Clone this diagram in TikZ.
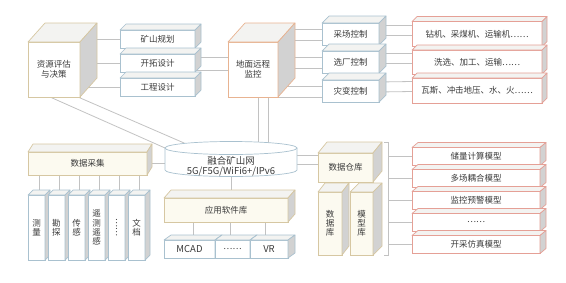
\documentclass[tikz,border=0pt]{standalone}
\usepackage{fontspec}
\usepackage{graphicx}
\newfontfamily\cjk{Noto Sans CJK SC}
\usetikzlibrary{calc}
\pgfdeclarelayer{bg}
\pgfsetlayers{bg,main}
\definecolor{tanc}{HTML}{D6C7A2}
\definecolor{monc}{HTML}{E8B391}
\definecolor{bluc}{HTML}{A9C1CF}
\definecolor{redc}{HTML}{E5A096}
\definecolor{creamf}{HTML}{FCFAF0}
\definecolor{topf}{HTML}{F3F3F1}
\definecolor{sidef}{HTML}{D2D2D2}
\definecolor{linec}{HTML}{C2C2C2}
\definecolor{txtc}{HTML}{3A3A3A}
\tikzset{
  conn/.style={draw=linec, line width=0.8pt},
  face/.style={line width=0.7pt, inner sep=0pt, outer sep=0pt, align=center},
  tanbox/.style={draw=tanc, fill=creamf},
  resbox/.style={draw=tanc, fill=white},
  monbox/.style={draw=monc, fill=white},
  blubox/.style={draw=bluc, fill=white},
  redbox/.style={draw=redc, fill=white},
  vtext/.style={font=\cjk\fontsize{8.5}{9.2}\selectfont},
  latin/.style={font=\cjk\fontsize{9.5}{11}\selectfont},
}
% #1 name, #2 x, #3 y, #4 width, #5 height, #6 depth x, #7 depth y, #8 style, #9 text
\newcommand\prism[9]{%
  \node[face, #8, minimum width=#4, minimum height=#5] (#1) at (#2,#3) {#9};
  \filldraw[#8, line width=0.7pt, line join=round, fill=topf] (#1.north west) -- ++(#6,-#7) -- ++(#4,0) -- (#1.north east) -- cycle;
  \filldraw[#8, line width=0.7pt, line join=round, fill=sidef] (#1.north east) -- ++(#6,-#7) -- ++(0,#5) -- (#1.south east) -- cycle;
}
\begin{document}
\begin{tikzpicture}[x=1pt, y=-1pt, every node/.style={font=\cjk\fontsize{8.5}{10}\selectfont, text=txtc}]
\useasboundingbox (0,0) rectangle (566,282);

% top row
\prism{res}{54}{69.5}{52}{55}{17}{19}{resbox}{资源评估\\与决策}
\prism{plan1}{157.5}{39}{75}{18}{6}{6}{blubox}{矿山规划}
\prism{plan2}{157.5}{63}{75}{18}{6}{6}{blubox}{开拓设计}
\prism{plan3}{157.5}{87}{75}{18}{6}{6}{blubox}{工程设计}
\prism{mon}{253}{69.5}{50}{55}{17}{19}{monbox}{地面远程\\监控}
\prism{ctl1}{350.5}{34}{57}{22}{7}{7}{blubox}{采场控制}
\prism{ctl2}{350.5}{62}{57}{22}{7}{7}{blubox}{选厂控制}
\prism{ctl3}{350.5}{91}{57}{22}{7}{7}{blubox}{灾变控制}
\prism{dev1}{477}{34}{130}{25}{5}{5}{redbox}{钻机、采煤机、运输机……}
\prism{dev2}{477}{62}{130}{24}{5}{5}{redbox}{洗选、加工、运输……}
\prism{dev3}{477}{90.5}{130}{25}{5}{5}{redbox}{瓦斯、冲击地压、水、火……}

% network cylinder
\node[minimum width=132, minimum height=22, inner sep=0pt, outer sep=0pt] (net) at (231,159) {};
\filldraw[draw=bluc, line width=0.7pt, fill=white] (net.north west) -- (net.south west)
  arc[start angle=180, end angle=360, x radius=66pt, y radius=6.5pt] -- (net.north east) -- cycle;
\filldraw[draw=bluc, line width=0.7pt, fill=white] (net.north) ellipse[x radius=66pt, y radius=6.5pt];
\node[align=center, latin] (netlabel) at ($(net.center)+(0,7)$) {融合矿山网\\[-1pt]5G/F5G/WiFi6+/IPv6};

% data acquisition
\prism{dc}{87.5}{163.5}{119}{23}{5}{8}{tanbox}{数据采集}
\prism{v1}{36.5}{227.5}{17}{65}{5}{5}{blubox, vtext}{测\\量}
\prism{v2}{56.5}{227.5}{17}{65}{5}{5}{blubox, vtext}{勘\\探}
\prism{v3}{76.5}{227.5}{17}{65}{5}{5}{blubox, vtext}{传\\感}
\prism{v4}{96.5}{227.5}{17}{65}{5}{5}{blubox, vtext}{遥\\测\\遥\\感}
\prism{v5}{116.5}{227.5}{17}{65}{5}{5}{blubox, vtext}{\rotatebox{-90}{……}}
\prism{v6}{136.5}{227.5}{17}{65}{5}{5}{blubox, vtext}{文\\档}

% application software
\prism{app}{226}{210}{124}{24}{7}{8}{tanbox}{应用软件库}
\prism{sw1}{189.5}{249}{51}{18}{7}{5}{blubox, latin}{MCAD}
\prism{sw2}{232.5}{249}{35}{18}{7}{5}{blubox}{……}
\prism{sw3}{269}{249}{38}{18}{7}{5}{blubox, latin}{VR}

% data warehouse
\prism{wh}{345.5}{167.5}{55}{29}{9}{11}{tanbox}{数据仓库}
\prism{db}{330}{223.5}{24}{63}{7}{9}{tanbox, vtext}{数\\据\\库}
\prism{mb}{361.5}{223.5}{23}{63}{9}{9}{tanbox, vtext}{模\\型\\库}

% models
\prism{m1}{476}{156.5}{128}{18}{6}{5}{redbox}{储量计算模型}
\prism{m2}{476}{178.5}{128}{18}{6}{5}{redbox}{多场耦合模型}
\prism{m3}{476}{200.5}{128}{18}{6}{5}{redbox}{监控预警模型}
\prism{m4}{476}{222.5}{128}{18}{6}{5}{redbox}{……}
\prism{m5}{476}{244.5}{128}{18}{6}{5}{redbox}{开采仿真模型}

\coordinate (brt) at (388,142);
\coordinate (brb) at (388,255);

\begin{pgfonlayer}{bg}
  % resource cube to planning
  \foreach \p in {plan1,plan2,plan3} \draw[conn] (\p.west -| res.east) -- (\p.west);
  % planning to monitoring
  \draw[conn] ($(plan2.east)+(0,-6)$) -- ($(mon.west |- plan2.east)+(0,-6)$);
  \draw[conn] ($(plan2.east)+(0,7)$) -- ($(mon.west |- plan2.east)+(0,7)$);
  % monitoring to controls
  \foreach \c in {ctl1,ctl2,ctl3} {
    \draw[conn] ($(mon.east |- \c.west)+(0,-5)$) -- ($(\c.west)+(0,-5)$);
    \draw[conn] ($(mon.east |- \c.west)+(0,6)$) -- ($(\c.west)+(0,6)$);
  }
  % controls to devices
  \draw[conn] ($(ctl1.east)+(0,-9)$) -- ($(dev1.west)+(0,-9)$);
  \draw[conn] ($(ctl1.east)+(0,1)$) -- ($(dev1.west)+(0,1)$);
  \draw[conn] ($(ctl2.east)+(0,-9)$) -- ($(dev2.west)+(0,-9)$);
  \draw[conn] ($(ctl2.east)+(0,1)$) -- ($(dev2.west)+(0,1)$);
  \draw[conn] ($(ctl3.east)+(0,-9)$) -- ($(dev3.west)+(0,-9)$);
  \draw[conn] ($(ctl3.east)+(0,1)$) -- ($(dev3.west)+(0,1)$);
  % resource cube to network
  \draw[conn] ($(res.south)+(-4,0)$) -- (net.north west);
  \draw[conn] ($(res.south)+(24,0)$) -- ($(net.north)+(-46,-4.6)$);
  % monitoring to network
  \coordinate (mn1) at ($(mon.south)+(5,0)$);
  \coordinate (mn2) at ($(mon.south)+(15,0)$);
  \draw[conn] (mn1) -- (mn1 |- net.north);
  \draw[conn] (mn2) -- (mn2 |- net.north);
  % data acquisition
  \draw[conn] (dc.east) -- (dc.east -| net.west);
  \foreach \v in {v1,v2,v3,v4,v5,v6} {
    \coordinate (t\v) at ($(\v.north)+(3,0)$);
    \draw[conn] (t\v |- dc.south) -- (t\v);
  }
  % network to application software
  \draw[conn] (net.south) -- (net.south |- app.north);
  \coordinate (a1) at ($(sw1.north)+(4,0)$);
  \coordinate (a2) at ($(sw2.north)+(-2,0)$);
  \coordinate (a3) at ($(sw3.north)+(-4,0)$);
  \foreach \a in {a1,a2,a3} \draw[conn] (\a |- app.south) -- (\a);
  % network to warehouse
  \draw[conn] ($(net.east)+(0,-4)$) -- ($(wh.west |- net.east)+(0,-4)$);
  \draw[conn] ($(net.east)+(0,5)$) -- ($(wh.west |- net.east)+(0,5)$);
  % bracket to models
  \draw[conn] ($(brt)+(-4,0)$) -- (brt) -- (brb) -- ($(brb)+(-4,0)$);
  \foreach \m in {m1,m2,m3,m4,m5} \draw[conn] (\m.west -| brt) -- (\m.west);
\end{pgfonlayer}
\end{tikzpicture}
\end{document}
